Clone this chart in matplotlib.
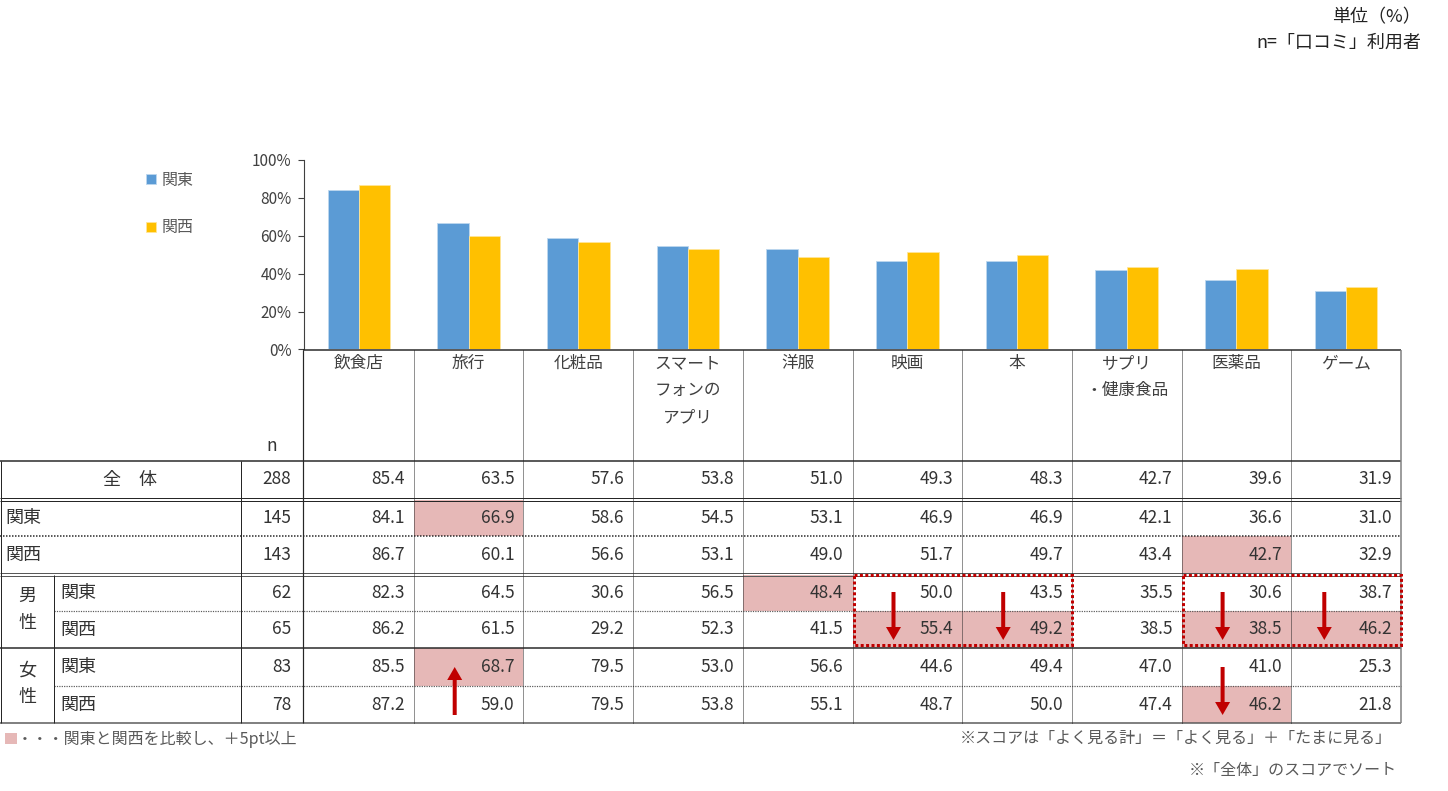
import matplotlib
matplotlib.use('Agg')
from matplotlib import pyplot as plt
from matplotlib.patches import Rectangle
import numpy as np

plt.rcParams['font.family'] = ['Noto Sans CJK JP', 'DejaVu Sans']

# データ
categories = ["飲食店", "旅行", "化粧品", "スマート\nフォンの\nアプリ", "洋服", "映画", "本",
              "サプリ\n・健康食品", "医薬品", "ゲーム"]
series_names = ["関東", "関西"]
kanto = [84.1, 66.9, 58.6, 54.5, 53.1, 46.9, 46.9, 42.1, 36.6, 31.0]
kansai = [86.7, 60.1, 56.6, 53.1, 49.0, 51.7, 49.7, 43.4, 42.7, 32.9]

total_row = [85.4, 63.5, 57.6, 53.8, 51.0, 49.3, 48.3, 42.7, 39.6, 31.9]
male_kanto = [82.3, 64.5, 30.6, 56.5, 48.4, 50.0, 43.5, 35.5, 30.6, 38.7]
male_kansai = [86.2, 61.5, 29.2, 52.3, 41.5, 55.4, 49.2, 38.5, 38.5, 46.2]
female_kanto = [85.5, 68.7, 79.5, 53.0, 56.6, 44.6, 49.4, 47.0, 41.0, 25.3]
female_kansai = [87.2, 59.0, 79.5, 53.8, 55.1, 48.7, 50.0, 47.4, 46.2, 21.8]

row_labels = ["全　体", "関東", "関西", "関東", "関西", "関東", "関西"]
row_groups = [None, None, None, "男\n性", "男\n性", "女\n性", "女\n性"]
row_n = [288, 145, 143, 62, 65, 83, 78]
rows = [total_row, kanto, kansai, male_kanto, male_kansai, female_kanto, female_kansai]

# (行, 列) ピンクのセル
highlight_cells = [(1, 1), (2, 8), (3, 4), (4, 5), (4, 6), (4, 8), (4, 9), (5, 1), (6, 8)]
# (列, 上の行, 向き)
arrows = [(5, 3, 'down'), (6, 3, 'down'), (8, 3, 'down'), (9, 3, 'down'),
          (8, 5, 'down'), (1, 5, 'up')]
# (最初の列, 最後の列, 上の行, 下の行)
dotted_boxes = [(5, 6, 3, 4), (8, 9, 3, 4)]

W, H = 1448, 791
px = 0.72
red = '#C00000'
pink = '#E6B8B7'
line_c = '#262626'
text_c = '#333333'

fig = plt.figure(figsize=(W / 100, H / 100), dpi=100)

col_left, col_right = 304, 1401
edges = np.linspace(col_left, col_right, 11)
axis_top, axis_bottom = 160, 349.5

ax = fig.add_axes([col_left / W, 1 - axis_bottom / H, (col_right - col_left) / W,
                   (axis_bottom - axis_top) / H])
x = np.arange(len(categories)) + 0.5
bw = 0.285
b1 = ax.bar(x - bw / 2, kanto, bw, color='#5B9BD5', edgecolor='#BDD7EE', linewidth=0.6,
            label=series_names[0])
b2 = ax.bar(x + bw / 2, kansai, bw, color='#FFC000', edgecolor='#FFE699', linewidth=0.6,
            label=series_names[1])
ax.set_xlim(0, len(categories))
ax.set_ylim(0, 100)
ax.set_yticks(range(0, 101, 20))
ax.yaxis.set_major_formatter(lambda v, p: f"{v:.0f}%")
ax.tick_params(axis='y', direction='out', length=4, width=0.8, colors='#404040',
               labelsize=11, pad=5)
ax.set_xticks([])
for s in ['top', 'right', 'bottom']:
    ax.spines[s].set_visible(False)
ax.spines['left'].set_color('#404040')
ax.spines['left'].set_linewidth(0.8)

fig.legend(handles=[b1, b2], loc='upper left', bbox_to_anchor=(146 / W, 1 - 172 / H),
           frameon=False, fontsize=11.5, handlelength=0.6, handleheight=0.6,
           handletextpad=0.4, labelspacing=1.9, borderpad=0, borderaxespad=0,
           labelcolor='#595959')

# 表（ピクセル座標）
tx = fig.add_axes([0, 0, 1, 1])
tx.set_xlim(0, W)
tx.set_ylim(H, 0)
tx.axis('off')

row_tops = [461, 500, 536, 575, 611, 648, 686]
row_bottoms = [498, 536, 573, 611, 648, 686, 723]
row_mid = [(a + b) / 2 for a, b in zip(row_tops, row_bottoms)]
dot = (0, (1, 1))


def hline(y, x0, x1, ls='-', lw=1.0, c=line_c):
    tx.plot([x0, x1], [y, y], color=c, lw=lw * px, ls=ls, solid_capstyle='butt')


def vline(xv, y0, y1, ls='-', lw=1.0, c=line_c):
    tx.plot([xv, xv], [y0, y1], color=c, lw=lw * px, ls=ls, solid_capstyle='butt')


for r, c in highlight_cells:
    tx.add_patch(Rectangle((edges[c], row_tops[r]), edges[c + 1] - edges[c],
                           row_bottoms[r] - row_tops[r], color=pink, lw=0, zorder=0))

hline(axis_bottom, 303, col_right, lw=1.5)
hline(461, 0, col_right, lw=1.5)
hline(498, 0, col_right)
hline(501, 0, col_right)
hline(536, 0, col_right, ls=dot, lw=1.5)
hline(573, 0, col_right, c='#595959')
hline(576, 0, col_right, c='#595959')
hline(611, 54, col_right, ls=dot, lw=1.2, c='#595959')
hline(648, 0, col_right, lw=1.5)
hline(686, 54, col_right, ls=dot, lw=1.2, c='#595959')
hline(723, 0, col_right, lw=1.5, c='#595959')

vline(1, 461, 723)
vline(54, 575, 723)
vline(241, 461, 723)
vline(303, axis_bottom, 723, lw=1.2)
for e in edges[1:-1]:
    vline(e, axis_bottom, 723, ls=dot, lw=1.0)
vline(col_right, axis_bottom, 723, lw=1.5, c='#7f7f7f')

for i, cat in enumerate(categories):
    tx.text((edges[i] + edges[i + 1]) / 2, 355, cat, ha='center', va='top', fontsize=12,
            color='#404040', linespacing=1.78)
tx.text(272, 446, "n", ha='center', va='center', fontsize=12.5, color=text_c)

for r, vals in enumerate(rows):
    y = row_mid[r]
    if r == 0:
        tx.text(130, y, row_labels[r], ha='center', va='center', fontsize=13, color=text_c)
    elif row_groups[r] is None:
        tx.text(5, y, row_labels[r], ha='left', va='center', fontsize=13, color=text_c)
    else:
        tx.text(60, y, row_labels[r], ha='left', va='center', fontsize=13, color=text_c)
    tx.text(291, y, str(row_n[r]), ha='right', va='center', fontsize=12.5, color=text_c)
    for c, v in enumerate(vals):
        tx.text(edges[c + 1] - 9, y, f"{v:.1f}", ha='right', va='center', fontsize=12.5,
                color=text_c)

done = []
for r, g in enumerate(row_groups):
    if g is None or g in done:
        continue
    done.append(g)
    idx = [k for k, gg in enumerate(row_groups) if gg == g]
    tx.text(27, (row_tops[idx[0]] + row_bottoms[idx[-1]]) / 2 - 2, g, ha='center',
            va='center', fontsize=13, color=text_c, linespacing=1.6)

for c0, c1, r0, r1 in dotted_boxes:
    tx.add_patch(Rectangle((edges[c0] + 1, row_tops[r0]), edges[c1 + 1] - edges[c0] - 1,
                           row_bottoms[r1] - row_tops[r0] - 3, fill=False, edgecolor=red,
                           lw=3 * px, ls=(0, (1, 0.8)), zorder=4))

for c, r, d in arrows:
    xa = edges[c] + min(41, 0.3 * (edges[c + 1] - edges[c]) + 8 * (c < 9) + 0)
    if c == 9:
        xa = edges[c] + 33
    else:
        xa = edges[c] + 41
    mid = row_bottoms[r] + 5
    if d == 'down':
        y0, dy = mid - 24, 48
    else:
        y0, dy = mid + 24, -48
    tx.arrow(xa, y0, 0, dy, width=4, head_width=15, head_length=13,
             length_includes_head=True, color=red, lw=0, zorder=5)

# 注記
tx.add_patch(Rectangle((5, 733), 12, 11, color=pink, lw=0))
tx.text(17, 739, "・・・関東と関西を比較し、＋5pt以上", ha='left', va='center', fontsize=11.5,
        color='#595959')
tx.text(1392, 738, "※スコアは「よく見る計」＝「よく見る」＋「たまに見る」", ha='right', va='center',
        fontsize=11.5, color='#595959')
tx.text(1397, 771, "※「全体」のスコアでソート", ha='right', va='center', fontsize=11.5,
        color='#595959')
tx.text(1421, 17, "単位（%）", ha='right', va='center', fontsize=13, color='#222222')
tx.text(1421, 43, "n=「口コミ」利用者", ha='right', va='center', fontsize=13, color='#222222')

fig.savefig('out.png', dpi=100)
